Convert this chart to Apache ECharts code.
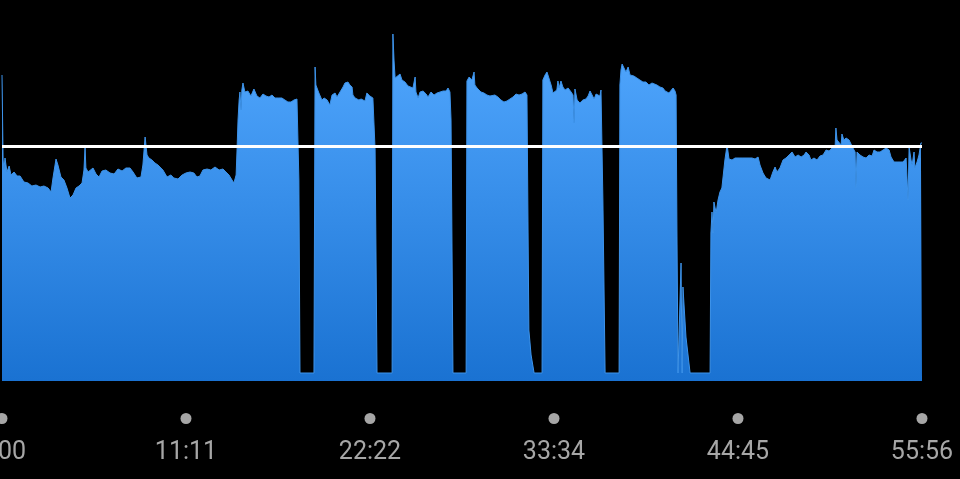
<!DOCTYPE html>
<html>
<head>
<meta charset="utf-8">
<script src="https://cdn.jsdelivr.net/npm/echarts@6/dist/echarts.min.js"></script>
<style>
html,body{margin:0;padding:0;background:#000;}
#chart{width:960px;height:479px;}
</style>
</head>
<body>
<div id="chart"></div>
<script>
// elapsed time in seconds
var times = [
0,4,7,11,18,26,33,44,55,66,80,95,109,124,139,153,168,179,186,197,204,215,226,237,248,259,270,281,292,299,303,306,314,321,332,343,354,365,379,394,409,423,438,452,467,478,492,507,514,522,529,536,547,558,569,576,587,602,616,627,642,657,671,686,700,711,722,733,748,762,777,792,806,817,828,839,846,854,857,861,865,868,872,875,879,886,897,908,919,930,941,952,963,974,985,996,1010,1021,1032,1043,1054,1065,1076,1080,1083,1087,
1138,1142,1145,1149,1156,1167,1175,1186,1196,1204,1215,1222,1233,1244,1251,1262,1269,1277,1280,1288,1295,1302,1310,1317,1324,1331,1342,1353,1357,1361,1368,
1423,1426,1430,1434,1441,1452,1459,1470,1481,1488,1499,1507,1510,1518,1525,1536,1547,1554,1565,1576,1587,1598,1609,1620,1627,1634,1638,1645,
1693,1696,1704,1714,1722,1725,1733,1740,1747,1758,1769,1780,1787,1798,1809,1820,1831,1842,1853,1864,1875,1886,1897,1908,1911,1915,1919,1922,1930,1941,
1970,1973,1981,1988,1995,2003,2010,2017,2024,2028,2032,2039,2046,2054,2065,2076,2083,2087,2090,2098,2108,2119,2130,2138,2145,2152,2160,2167,2174,2181,2185,2189,2192,2200,
2251,2254,2258,2262,2269,2276,2284,2291,2298,2305,2316,2327,2338,2349,2360,2371,2378,2389,2400,2411,2419,2426,2433,2440,2448,2455,2459,2462,2466,2473,2477,2481,2484,2495,2510,
2583,2586,2590,2594,2597,2605,2612,2619,2626,2637,2645,2652,2663,2674,2681,2692,2703,2714,2725,2736,2747,2758,2765,2776,2787,2794,2802,2812,2820,2827,2838,2849,2860,2871,2882,2893,2904,2915,2926,2933,2944,2951,2962,2973,2984,2995,3006,3017,3028,3039,3042,3046,3053,3061,3064,3071,3079,3090,3097,3104,3112,3115,3119,3130,3141,3152,3163,3174,3181,3192,3203,3214,3225,3236,3243,3254,3265,3276,3287,3298,3305,3309,3316,3320,3327,3330,3338,3345,3352,3356
];
// power in watts
var watts = [
306,221,211,223,209,215,206,209,205,205,199,198,195,196,194,195,193,189,203,222,216,204,201,193,183,186,193,195,198,211,234,213,209,211,213,207,204,210,211,208,207,212,210,213,213,209,203,204,216,244,226,223,221,218,216,215,211,204,206,203,202,206,208,209,208,204,205,211,212,211,214,211,212,209,206,201,198,206,228,261,281,289,271,291,298,289,290,285,292,285,283,287,285,284,286,283,283,283,281,279,279,281,282,280,201,8,
8,314,296,298,288,281,283,281,276,286,288,284,289,294,298,299,296,294,286,283,285,281,282,281,280,288,285,283,281,231,8,
8,347,321,303,302,307,301,299,295,294,293,304,289,283,289,290,287,284,289,286,288,289,290,290,293,289,261,8,
8,300,304,301,309,296,293,291,289,288,286,285,287,286,284,281,279,280,282,284,287,286,287,289,288,286,148,51,26,8,
8,301,306,309,303,296,288,289,291,300,293,300,294,291,293,289,286,258,292,281,278,281,282,285,290,288,282,287,289,285,291,289,181,8,
8,296,311,317,313,309,314,306,304,305,303,301,299,299,296,298,299,296,294,293,290,292,288,289,293,290,286,151,8,8,118,8,94,44,8,
8,148,169,148,179,168,181,189,193,221,236,222,221,223,225,223,223,223,223,223,222,224,216,208,203,201,201,209,214,209,213,221,223,226,229,224,226,224,226,229,226,221,223,221,225,226,231,230,233,234,253,241,241,236,247,241,243,241,241,233,229,193,229,226,224,223,226,225,231,229,229,231,233,231,224,219,219,219,219,223,181,234,221,216,229,213,219,226,238,238
];
var threshold = 235;
var tickLabels = ['0:00', '11:11', '22:22', '33:34', '44:45', '55:56'];
var totalSeconds = 3356;

var tickStep = totalSeconds / (tickLabels.length - 1);
var seriesData = times.map(function (t, i) { return [t, watts[i]]; });

function labelFor(v) { return tickLabels[Math.round(v / tickStep)] || ''; }

var chart = echarts.init(document.getElementById('chart'), null, { renderer: 'canvas' });
var baseX = {
  type: 'value', min: 0, max: totalSeconds, interval: tickStep,
  splitLine: { show: false }, axisLine: { show: false }, axisTick: { show: false },
  position: 'bottom'
};
chart.setOption({
  backgroundColor: '#000000',
  animation: false,
  grid: { left: 2, right: 38, top: 21, bottom: 98, containLabel: false, outerBoundsMode: 'none' },
  xAxis: [
    Object.assign({}, baseX, {
      axisLabel: {
        show: true, margin: 32, showMinLabel: true, showMaxLabel: true,
        alignMinLabel: 'center', alignMaxLabel: 'center', hideOverlap: false,
        formatter: function () { return '{d|}'; },
        rich: { d: { width: 11, height: 11, lineHeight: 11, borderRadius: 6, backgroundColor: '#a6a6a6' } }
      }
    }),
    Object.assign({}, baseX, {
      axisLabel: {
        show: true, margin: 59, showMinLabel: true, showMaxLabel: true,
        alignMinLabel: 'center', alignMaxLabel: 'center', hideOverlap: false,
        color: '#a6a6a6', fontSize: 25, fontFamily: 'Roboto',
        formatter: labelFor
      }
    })
  ],
  yAxis: {
    type: 'value', min: 0, max: 360, show: false, splitLine: { show: false }
  },
  series: [{
    type: 'line',
    data: seriesData,
    showSymbol: false,
    symbol: 'none',
    xAxisIndex: 0,
    lineStyle: { width: 1, color: '#3d93ea' },
    areaStyle: {
      opacity: 1,
      color: new echarts.graphic.LinearGradient(0, 0, 0, 1, [
        { offset: 0, color: '#52a8ff' },
        { offset: 1, color: '#1a72d2' }
      ])
    },
    markLine: {
      silent: true,
      symbol: ['none', 'none'],
      label: { show: false },
      lineStyle: { color: '#ffffff', width: 3, type: 'solid' },
      data: [{ yAxis: threshold }]
    }
  }]
});
</script>
</body>
</html>
